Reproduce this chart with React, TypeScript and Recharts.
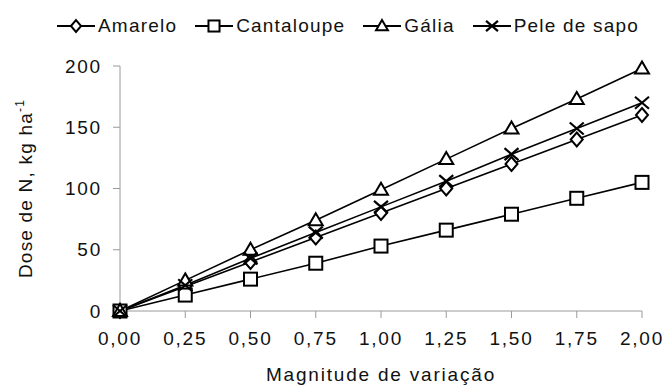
import { LineChart, Line, XAxis, YAxis, Legend } from 'recharts';

const magnitudes = [0, 0.25, 0.5, 0.75, 1, 1.25, 1.5, 1.75, 2];
const amarelo = [0, 20, 40, 60, 80, 100, 120, 140, 160];
const cantaloupe = [0, 13, 26, 39, 53, 66, 79, 92, 105];
const galia = [0, 25, 50, 74, 99, 124, 149, 173, 198];
const peleDeSapo = [0, 21, 43, 64, 85, 106, 128, 149, 170];
const yTicks = [0, 50, 100, 150, 200];

type Kind = 'diamond' | 'square' | 'triangle' | 'cross';

const seriesList: { name: string; values: number[]; kind: Kind }[] = [
  { name: 'Amarelo', values: amarelo, kind: 'diamond' },
  { name: 'Cantaloupe', values: cantaloupe, kind: 'square' },
  { name: 'Gália', values: galia, kind: 'triangle' },
  { name: 'Pele de sapo', values: peleDeSapo, kind: 'cross' },
];

const data = magnitudes.map((m, i) => {
  const row: Record<string, number> = { m };
  seriesList.forEach(s => { row[s.name] = s.values[i]; });
  return row;
});

const FONT = '"Liberation Sans", Arial, sans-serif';
const TEXT = '#111';

function Marker({ kind, cx, cy, s = 1 }: { kind: Kind; cx: number; cy: number; s?: number }) {
  const common = { fill: '#fff', stroke: '#000', strokeWidth: 2 };
  if (kind === 'diamond') {
    const w = 6 * s, h = 7 * s;
    return <polygon points={`${cx},${cy - h} ${cx + w},${cy} ${cx},${cy + h} ${cx - w},${cy}`} {...common} />;
  }
  if (kind === 'square') {
    const h = 6.5 * s;
    return <rect x={cx - h} y={cy - h} width={2 * h} height={2 * h} {...common} />;
  }
  if (kind === 'triangle') {
    const w = 7 * s;
    return <polygon points={`${cx},${cy - 7 * s} ${cx + w},${cy + 5 * s} ${cx - w},${cy + 5 * s}`} {...common} />;
  }
  const w = 7 * s, h = 6 * s;
  return (
    <g stroke="#000" strokeWidth={2.2}>
      <line x1={cx - w} y1={cy - h} x2={cx + w} y2={cy + h} />
      <line x1={cx - w} y1={cy + h} x2={cx + w} y2={cy - h} />
    </g>
  );
}

function LegendContent() {
  return (
    <div style={{ height: 55 }}>
      <div
        style={{
          display: 'flex', alignItems: 'center', height: 30, paddingLeft: 57,
          fontFamily: FONT, fontSize: 19, letterSpacing: 1.2, color: TEXT,
        }}
      >
        {seriesList.map(s => (
          <div key={s.name} style={{ display: 'flex', alignItems: 'center', marginRight: 18 }}>
            <svg width={38} height={20}>
              <line x1={0} y1={10} x2={38} y2={10} stroke="#000" strokeWidth={2} />
              <Marker kind={s.kind} cx={19} cy={10} s={0.85} />
            </svg>
            <span style={{ marginLeft: 3, whiteSpace: 'nowrap' }}>{s.name}</span>
          </div>
        ))}
      </div>
    </div>
  );
}

function YLabel(props: any) {
  const vb = props.viewBox || { x: 0, y: 66, height: 245 };
  const cy = vb.y + vb.height / 2;
  const x = 32;
  return (
    <text
      x={x} y={cy} transform={`rotate(-90, ${x}, ${cy})`} textAnchor="middle"
      fontFamily={FONT} fontSize={19} fill={TEXT} letterSpacing={1.2}
    >
      Dose de N, kg ha<tspan dy={-8} fontSize={12}>-1</tspan>
    </text>
  );
}

function XLabel(props: any) {
  const vb = props.viewBox || { x: 120, y: 311, width: 522 };
  return (
    <text
      x={vb.x + vb.width / 2} y={381} textAnchor="middle"
      fontFamily={FONT} fontSize={19} fill={TEXT} letterSpacing={1.8}
    >
      Magnitude de variação
    </text>
  );
}

const tickStyle = { fontFamily: FONT, fontSize: 19, fill: TEXT, letterSpacing: 1.8 };

export default function App() {
  return (
    <div style={{ width: 666, height: 387, background: '#fff' }}>
      <style>{'body{margin:0}'}</style>
      <LineChart width={666} height={387} data={data} margin={{ top: 11, right: 24, bottom: 0, left: 0 }}>
        <Legend verticalAlign="top" content={<LegendContent />} wrapperStyle={{ left: 0, top: 11, width: 666 }} />
        <XAxis
          dataKey="m"
          type="number"
          domain={[0, 2]}
          ticks={magnitudes}
          tickFormatter={(v: number) => v.toFixed(2).replace('.', ',')}
          height={76}
          tickSize={7}
          tickMargin={14}
          stroke="#9a9a9a"
          tick={tickStyle}
          interval={0}
          label={<XLabel />}
        />
        <YAxis
          type="number"
          domain={[0, 200]}
          ticks={yTicks}
          width={120}
          tickSize={7}
          tickMargin={11}
          stroke="#9a9a9a"
          tick={tickStyle}
          interval={0}
          label={<YLabel />}
        />
        {seriesList.map(s => (
          <Line
            key={s.name}
            dataKey={s.name}
            stroke="#000"
            strokeWidth={1.6}
            isAnimationActive={false}
            dot={(p: any) => <Marker key={`${s.name}-${p.index}`} kind={s.kind} cx={p.cx} cy={p.cy} />}
            activeDot={false}
          />
        ))}
      </LineChart>
    </div>
  );
}
